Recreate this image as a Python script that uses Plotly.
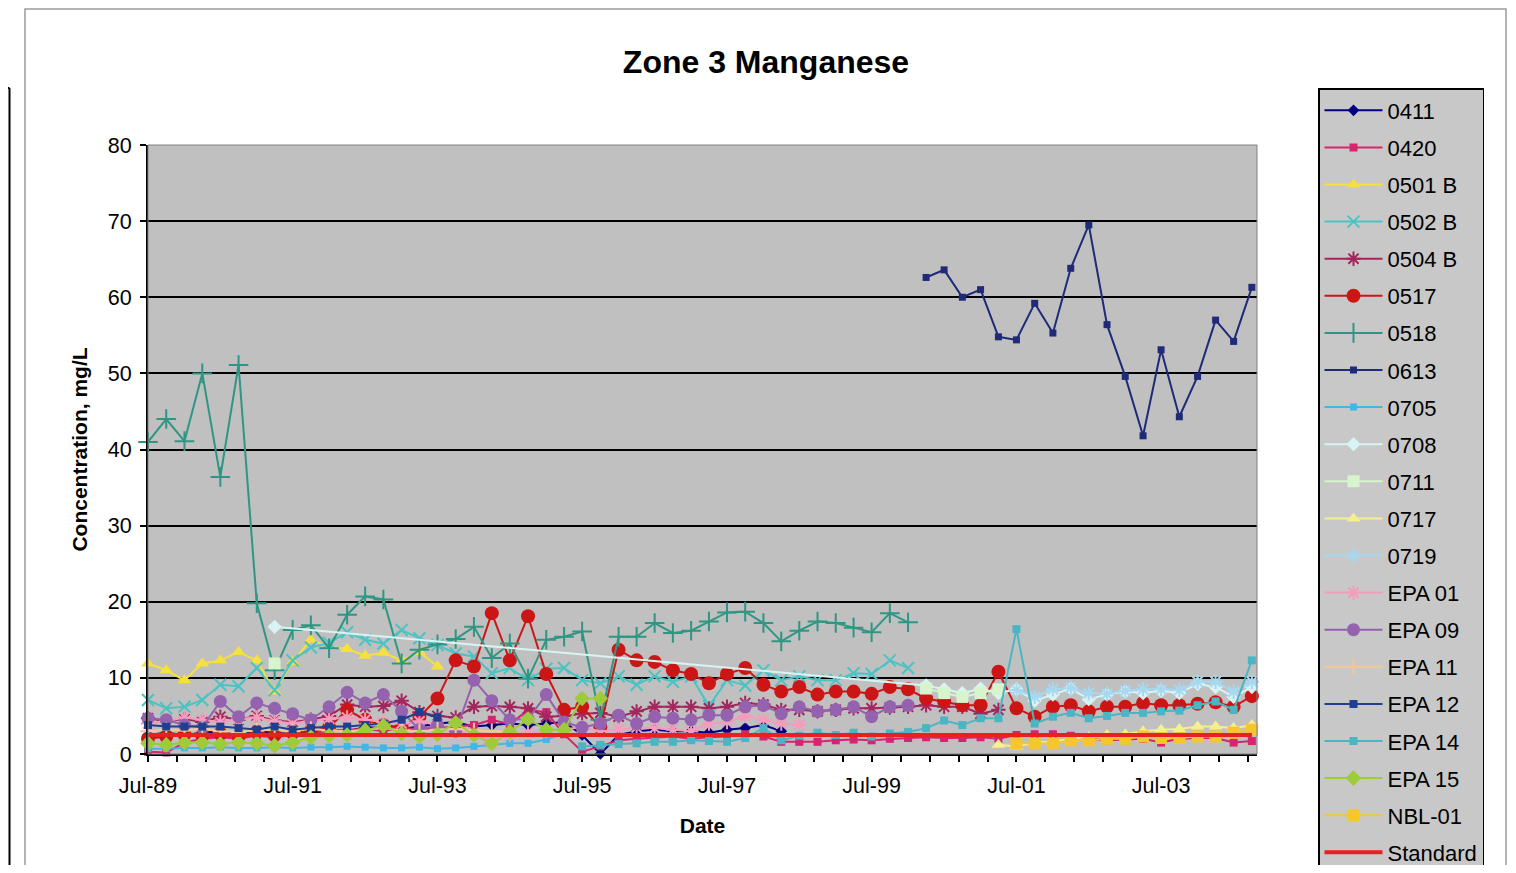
import pandas as pd
import plotly.graph_objects as go

# Quarterly sampling dates (Jul-1989 .. Oct-2004)
dates = [d.strftime("%Y-%m-%d") for d in pd.date_range("1989-07-01", periods=62, freq="QS-JAN")]
N = len(dates)

def pad(start, vals):
    return [None] * start + list(vals) + [None] * (N - start - len(vals))

s_0411 = pad(0, [2.5, 2.8, 2.5, 2.8, 3.0, 2.7, 3.0, 2.8, 2.6, 3.0, 3.2, 3.0, 3.5, 3.4, 3.3, 3.6,
                 4.0, 4.2, 3.6, 3.8, 4.0, 3.8, 4.0, 4.2, 2.5, 0.0, 2.5, 3.0, 3.2, 3.0, 3.0, 2.8,
                 3.2, 3.4, 3.8, 3.0])
s_0420 = pad(0, [0.3, 0.2, 1.5, 2.0, 2.2, 2.0, 2.4, 2.2, 2.5, 2.8, 3.0, 3.2, 3.3, 3.0, 3.5, 3.2,
                 3.4, 3.6, 3.8, 4.5, 3.9, 5.8, 5.5, 2.6, 0.3, 1.0, 1.8, 2.0, 2.1, 2.3, 2.0, 2.2,
                 2.3, 2.6, 2.3, 1.6, 1.6, 1.6, 1.8, 1.9, 1.8, 2.0, 2.1, 2.2, 2.1, 2.1, 2.2, 2.0,
                 2.5, 2.6, 2.6, 2.4, 2.0, 1.8, 1.9, 2.0, 1.5, 2.0, 2.1, 2.1, 1.5, 1.7])
s_0501b = pad(0, [11.9, 11.0, 9.7, 11.9, 12.3, 13.4, 12.3, 8.2, 12.1, 15.0, 14.1, 13.8, 12.9,
                  13.3, 12.3, 13.4, 11.5])
s_0502b = pad(0, [7.1, 6.0, 6.2, 7.1, 9.1, 8.9, 11.3, 8.4, 12.3, 14.0, 14.6, 16.0, 15.0, 14.5,
                  16.3, 15.2, 14.3, 13.2, 12.8, 10.6, 11.3, 9.7, 11.2, 11.3, 9.7, 9.3, 10.2, 9.1,
                  10.2, 9.5, 10.2, 6.3, 9.7, 9.0, 11.0, 9.7, 10.2, 9.7, 9.7, 10.6, 10.5, 12.3, 11.3])
s_0504b = pad(0, [4.7, 4.3, 4.6, 4.2, 4.9, 4.5, 5.0, 4.4, 4.2, 4.5, 5.0, 6.5, 6.2, 6.3, 7.0, 5.5,
                  5.0, 4.8, 6.2, 6.3, 6.2, 6.0, 4.9, 5.0, 5.3, 5.4, 4.9, 5.6, 6.2, 6.2, 6.2, 6.0,
                  6.2, 6.7, 6.5, 5.8, 5.8, 5.6, 5.8, 6.0, 6.0, 6.1, 6.2, 6.4, 6.2, 6.2, 5.3, 5.8])
s_0517 = pad(0, [2.0, 2.3, 2.6, 2.4, 2.7, 2.3, 2.9, 2.5, 2.8, 3.0, 3.5, 5.8, 4.5, 3.8, 3.5, 4.9,
                 7.3, 12.3, 11.5, 18.5, 12.3, 18.1, 10.5, 5.8, 6.2, 3.5, 13.7, 12.3, 12.1, 11.0,
                 10.5, 9.3, 10.5, 11.3, 9.1, 8.2, 8.8, 7.8, 8.2, 8.2, 7.9, 8.8, 8.5, 7.3, 6.9,
                 6.4, 6.4, 10.8, 6.0, 4.9, 6.2, 6.4, 5.6, 6.2, 6.2, 6.7, 6.4, 6.4, 6.6, 6.8, 6.2, 7.6])
s_0518 = pad(0, [41.0, 44.0, 41.1, 50.0, 36.4, 51.1, 19.8, 11.0, 16.3, 16.9, 13.9, 18.3, 20.7,
                 20.3, 11.9, 13.7, 14.4, 15.1, 16.7, 12.6, 14.5, 9.9, 15.0, 15.4, 16.1, 4.5, 15.4,
                 15.4, 17.2, 15.9, 16.2, 17.4, 18.6, 18.7, 17.2, 14.8, 16.2, 17.4, 17.2, 16.6,
                 16.0, 18.5, 17.3])
s_0613 = pad(43, [62.6, 63.6, 60.0, 61.0, 54.8, 54.4, 59.2, 55.3, 63.8, 69.5, 56.4, 49.6, 41.8,
                  53.1, 44.3, 49.6, 57.0, 54.2, 61.3])
s_0705 = pad(0, [0.7, 0.7, 0.8, 0.8, 0.9, 0.8, 0.8, 0.9, 0.8, 0.9, 0.9, 1.0, 0.9, 0.8, 0.8, 0.9,
                 0.7, 0.8, 1.0, 1.2, 1.4, 1.4, 1.9, 2.7])
s_0708 = pad(7, [16.7] + [None] * 35 + [9.0, 8.5, 8.0, 8.6, 8.0, 8.5, 7.0, 7.8, 8.6, 7.2, 7.8,
                                        8.2, 8.0, 8.3, 8.0, 9.2, 8.8, 7.5, 8.8])
s_0711 = pad(7, [11.9] + [None] * 35 + [8.6, 8.0, 7.5, 8.0, 8.5])
s_0717 = pad(47, [1.2, 1.0, 1.5, 1.6, 2.0, 2.2, 2.5, 2.6, 3.0, 3.2, 3.3, 3.6, 3.6, 3.4, 3.8])
s_0719 = pad(48, [8.4, 7.5, 8.5, 8.7, 8.0, 7.9, 8.3, 8.5, 8.5, 8.4, 9.5, 9.5, 8.2, 9.5])
s_epa01 = pad(0, [4.0, 4.3, 4.8, 4.5, 4.2, 4.6, 4.8, 4.3, 4.0, 4.4, 4.6, 4.8, 4.5, 4.2, 4.0, 4.3,
                  3.8, 3.0, 2.8, 1.5, 2.5, 2.8, 3.0, 3.2, 3.5, 3.0, 3.2, 3.5, 3.4, 3.2, 3.0, 4.0,
                  4.2, 5.0, 4.5, 4.0, 3.8])
s_epa09 = pad(0, [4.7, 4.5, 3.8, 3.5, 6.9, 4.9, 6.7, 6.0, 5.3, 4.5, 6.2, 8.1, 6.7, 7.8, 5.6, 3.2,
                  3.8, 3.0, 9.7, 7.0, 4.5, 4.6, 7.8, 4.2, 3.5, 4.0, 5.1, 4.0, 4.9, 4.7, 4.5, 5.1,
                  5.1, 6.2, 6.4, 5.3, 6.2, 5.6, 5.8, 6.2, 4.9, 6.2, 6.4])
s_epa11 = pad(0, [3.0, 3.2, 3.1, 3.3, 3.0, 2.9, 3.1, 3.2, 3.0, 3.3, 3.1, 3.0, 3.2, 3.4, 3.1, 3.0,
                  3.2, 3.3, 3.1, 3.0, 2.9])
s_epa12 = pad(0, [3.8, 3.6, 3.6, 3.6, 3.6, 3.4, 3.2, 3.6, 3.2, 3.4, 3.6, 3.6, 3.8, 4.0, 4.5, 5.5,
                  4.8])
s_epa14 = pad(24, [1.0, 1.2, 1.3, 1.4, 1.6, 1.6, 1.8, 1.7, 1.6, 2.1, 3.4, 1.8, 2.4, 2.8, 2.5, 2.8,
                   2.3, 2.7, 2.9, 3.4, 4.4, 3.8, 4.7, 4.7, 16.4, 4.0, 4.9, 5.4, 4.7, 5.0, 5.4, 5.4,
                   5.6, 5.7, 6.4, 6.9, 5.8, 12.3])
s_epa15 = pad(0, [1.4, 1.2, 1.5, 1.5, 1.3, 1.5, 1.4, 1.1, 1.5, 2.2, 2.4, 2.5, 3.1, 3.7, 2.7, 2.3,
                  2.6, 4.1, 2.5, 1.4, 2.9, 4.6, 3.2, 3.2, 7.3, 7.3])
s_nbl01 = pad(48, [1.4, 1.4, 1.4, 1.8, 1.8, 2.0, 2.0, 2.3, 2.1, 2.1, 2.3, 2.3, 2.8, 3.2])
s_standard = [2.5] * N

series = [
    ("0411", s_0411, "#000080", "diamond", 9),
    ("0420", s_0420, "#D6246E", "square", 8),
    ("0501 B", s_0501b, "#F5E03C", "triangle-up", 12),
    ("0502 B", s_0502b, "#4CC3C3", "x-thin-open", 12),
    ("0504 B", s_0504b, "#A3265E", "asterisk-open", 12),
    ("0517", s_0517, "#CC1616", "circle", 14),
    ("0518", s_0518, "#2E9683", "cross-thin-open", 14),
    ("0613", s_0613, "#1F2A78", "square", 7),
    ("0705", s_0705, "#42B6E6", "square", 7),
    ("0708", s_0708, "#D8F4F2", "diamond", 11),
    ("0711", s_0711, "#D6F5CC", "square", 12),
    ("0717", s_0717, "#F6EF8E", "triangle-up", 12),
    ("0719", s_0719, "#A6D8F2", "asterisk-open", 12),
    ("EPA 01", s_epa01, "#F59BBB", "asterisk-open", 12),
    ("EPA 09", s_epa09, "#9462AE", "circle", 13),
    ("EPA 11", s_epa11, "#F4C896", "cross-thin-open", 11),
    ("EPA 12", s_epa12, "#1F3F90", "square", 8),
    ("EPA 14", s_epa14, "#4AB6C4", "square", 8),
    ("EPA 15", s_epa15, "#9DCB3A", "diamond", 12),
    ("NBL-01", s_nbl01, "#F7C52E", "square", 12),
]

FONT = "Arial, Liberation Sans, sans-serif"
fig = go.Figure()
for name, vals, color, sym, size in series:
    open_sym = sym.endswith("-open")
    fig.add_trace(go.Scatter(
        x=dates, y=vals, name=name, legendgroup=name, mode="lines+markers",
        connectgaps=(name != "0711"), cliponaxis=False,
        line=dict(color=color, width=2),
        marker=dict(symbol=sym, size=size, color=color,
                    line=dict(color=color, width=2 if open_sym else 0)),
    ))
fig.add_trace(go.Scatter(
    x=dates, y=s_standard, name="Standard", legendgroup="Standard", mode="lines",
    line=dict(color="#E8201E", width=4),
))

# page body has an 8px margin: work in figure coordinates = reference - 8
OFF = 8
W, H = 1516 - 2 * OFF, 873 - 2 * OFF
L, R, T, B = 148 - OFF, 1257 - OFF, 145 - OFF, 754 - OFF
pw, ph = R - L, B - T
px = lambda x: (x - OFF - L) / pw   # reference x pixel -> paper
py = lambda y: (B - (y - OFF)) / ph  # reference y pixel -> paper

fig.update_layout(
    width=W, height=H,
    margin=dict(l=L, r=W - R, t=T, b=H - B, pad=0, autoexpand=False),
    paper_bgcolor="white", plot_bgcolor="#C0C0C0",
    font=dict(family=FONT, size=20, color="black"),
    title=dict(text="<b>Zone 3 Manganese</b>", font=dict(size=32, family=FONT),
               x=px(766), xref="paper", xanchor="center",
               y=1 - (62 - OFF) / H, yref="container", yanchor="middle"),
    showlegend=True,
    legend=dict(x=px(1318), y=py(88), xanchor="left", yanchor="top",
                bgcolor="#C8C8C8", bordercolor="black", borderwidth=1.5,
                font=dict(size=22, family=FONT), traceorder="grouped",
                tracegroupgap=5.5, itemwidth=58),
    xaxis=dict(
        type="date", range=["1989-07-01", "2004-10-27"],
        tick0="1989-07-01", dtick="M24", tickformat="%b-%y",
        ticks="outside", ticklen=6, tickcolor="black", tickwidth=1.5,
        tickfont=dict(size=21.5), showgrid=False, zeroline=False,
        showline=True, linecolor="black", linewidth=2, ticklabelstandoff=5,
        minor=dict(tick0="1989-07-01", dtick=146.1 * 86400000, ticks="outside",
                   ticklen=6, tickcolor="black", tickwidth=1.5, showgrid=False),
        title=dict(text="<b>Date</b>", font=dict(size=21), standoff=22),
    ),
    yaxis=dict(
        range=[0, 80], dtick=10, ticks="outside", ticklen=6, tickcolor="black",
        tickwidth=1.5, tickfont=dict(size=21.5), ticklabelstandoff=4,
        showgrid=True, gridcolor="black", gridwidth=1.5, zeroline=False,
        showline=True, linecolor="black", linewidth=2,
        title=dict(text="<b>Concentration, mg/L</b>", font=dict(size=21), standoff=14),
    ),
    shapes=[
        dict(type="rect", xref="paper", yref="paper", x0=0, x1=1, y0=0, y1=1,
             line=dict(color="#808080", width=1), layer="above"),
        dict(type="rect", xref="paper", yref="paper", x0=px(25), x1=px(1506),
             y0=py(930), y1=py(9), line=dict(color="#9A9A9A", width=1.5), layer="below"),
        dict(type="line", xref="paper", yref="paper", x0=px(9.5), x1=px(9.5),
             y0=py(930), y1=py(88), line=dict(color="black", width=2), layer="below"),
        dict(type="line", xref="paper", yref="paper", x0=px(0), x1=px(9.5),
             y0=py(88), y1=py(88), line=dict(color="black", width=2), layer="below"),
    ],
)
try:
    fig.update_layout(legend_maxheight=820)
except Exception:
    pass

fig.write_html("out.html")
